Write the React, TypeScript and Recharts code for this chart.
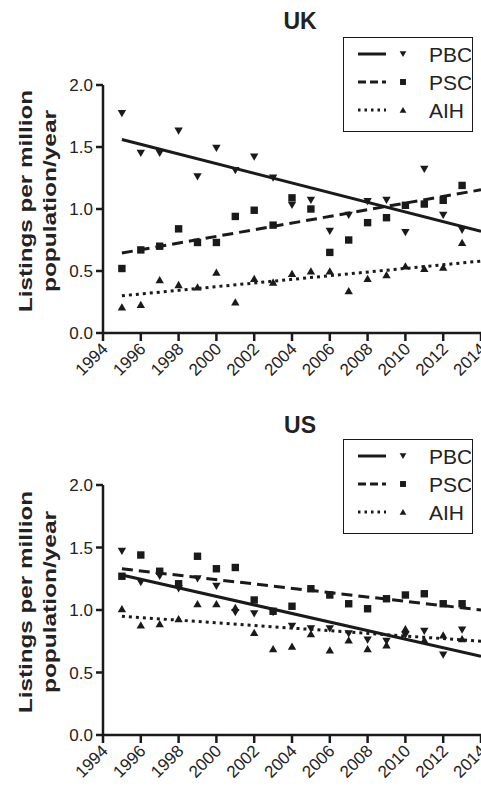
import React from "react";
import { ComposedChart, Scatter, XAxis, YAxis, Legend } from "recharts";

const years = [1995, 1996, 1997, 1998, 1999, 2000, 2001, 2002, 2003, 2004, 2005, 2006, 2007, 2008, 2009, 2010, 2011, 2012, 2013];
const xTicks = [1994, 1996, 1998, 2000, 2002, 2004, 2006, 2008, 2010, 2012, 2014];
const yTicks = [0, 0.5, 1, 1.5, 2];
const fitYears = [1995, 2014];

const ukPBC = [1.77, 1.45, 1.45, 1.63, 1.26, 1.49, 1.31, 1.42, 1.25, 1.03, 1.07, 0.82, 0.95, 1.06, 1.07, 0.81, 1.32, 0.95, 0.83];
const ukPSC = [0.52, 0.67, 0.7, 0.84, 0.73, 0.73, 0.94, 0.99, 0.87, 1.09, 1.0, 0.65, 0.75, 0.89, 0.93, 1.03, 1.04, 1.07, 1.19];
const ukAIH = [0.21, 0.23, 0.43, 0.39, 0.37, 0.49, 0.25, 0.44, 0.41, 0.48, 0.5, 0.5, 0.34, 0.44, 0.47, 0.54, 0.52, 0.53, 0.73];
const ukFitPBC = [1.56, 0.82];
const ukFitPSC = [0.645, 1.155];
const ukFitAIH = [0.3, 0.58];

const usPBC = [1.47, 1.22, 1.27, 1.17, 1.25, 1.19, 0.98, 0.97, 0.98, 0.87, 0.85, 0.85, 0.81, 0.76, 0.75, 0.8, 0.83, 0.64, 0.84];
const usPSC = [1.27, 1.44, 1.31, 1.21, 1.43, 1.33, 1.34, 1.08, 0.99, 1.03, 1.17, 1.12, 1.05, 1.01, 1.09, 1.12, 1.13, 1.05, 1.05];
const usAIH = [1.01, 0.88, 0.89, 0.93, 1.05, 1.05, 1.02, 0.82, 0.69, 0.71, 0.81, 0.68, 0.76, 0.69, 0.72, 0.85, 0.76, 0.8, 0.77];
const usFitPBC = [1.28, 0.63];
const usFitPSC = [1.33, 1.0];
const usFitAIH = [0.95, 0.75];

const seriesNames = ["PBC", "PSC", "AIH"];

const INK = "#1a1a1a";
const FONT = "'Liberation Sans', Arial, sans-serif";

const toPts = (vals: number[]) => years.map((x, i) => ({ x, y: vals[i] }));
const toFit = (vals: number[]) => fitYears.map((x, i) => ({ x, y: vals[i] }));

const DownTri = (p: any) => {
  const { cx, cy } = p;
  if (cx == null || cy == null) return <g />;
  return <polygon points={`${cx - 4.2},${cy - 3.5} ${cx + 4.2},${cy - 3.5} ${cx},${cy + 3.8}`} fill={INK} />;
};
const UpTri = (p: any) => {
  const { cx, cy } = p;
  if (cx == null || cy == null) return <g />;
  return <polygon points={`${cx - 4.2},${cy + 3.5} ${cx + 4.2},${cy + 3.5} ${cx},${cy - 3.8}`} fill={INK} />;
};
const Sq = (p: any) => {
  const { cx, cy } = p;
  if (cx == null || cy == null) return <g />;
  return <rect x={cx - 3.7} y={cy - 3.7} width={7.4} height={7.4} fill={INK} />;
};
const Nothing = () => <g />;

const dashes = ["", "11 6", "3 4"];
const shapes = [DownTri, Sq, UpTri];

const XTick = (props: any) => {
  const { x, y, payload } = props;
  const ax = x + 6;
  const ay = y + 7;
  return (
    <text
      x={ax}
      y={ay}
      transform={`rotate(-45 ${ax} ${ay})`}
      textAnchor="end"
      fontSize={17}
      fontFamily={FONT}
      fill="#222"
    >
      {payload.value}
    </text>
  );
};

const YLabel = (props: any) => {
  const vb = props.viewBox || {};
  const cy = vb.y + vb.height / 2 - 8;
  return (
    <g fontFamily={FONT} fontWeight="bold" fontSize={19} fill="#222">
      <text
        x={25}
        y={cy}
        transform={`rotate(-90 25 ${cy})`}
        textAnchor="middle"
        dominantBaseline="central"
        textLength={222}
        lengthAdjust="spacingAndGlyphs"
      >
        Listings per million
      </text>
      <text
        x={49}
        y={cy}
        transform={`rotate(-90 49 ${cy})`}
        textAnchor="middle"
        dominantBaseline="central"
        textLength={182}
        lengthAdjust="spacingAndGlyphs"
      >
        population/year
      </text>
    </g>
  );
};

const LegendBox = () => (
  <div
    style={{
      border: `1.5px solid ${INK}`,
      width: 130,
      height: 95,
      boxSizing: "border-box",
      background: "#fff",
      paddingTop: 2,
    }}
  >
    {seriesNames.map((name, i) => {
      const Shape = shapes[i];
      return (
        <svg key={name} width={127} height={28} style={{ display: "block" }}>
          <line x1={14} x2={42} y1={14} y2={14} stroke={INK} strokeWidth={3} strokeDasharray={i === 0 ? undefined : i === 1 ? "8 4" : "2.5 4"} />
          <g transform="translate(59 14) scale(0.8) translate(-59 -14)">
            <Shape cx={59} cy={14} />
          </g>
          <text x={85} y={14} dominantBaseline="central" fontSize={21} fontFamily={FONT} fill="#222">
            {name}
          </text>
        </svg>
      );
    })}
  </div>
);

type PanelProps = {
  title: string;
  height: number;
  top: number;
  bottom: number;
  titleY: number;
  legendTop: number;
  pbc: number[];
  psc: number[];
  aih: number[];
  fits: number[][];
};

const Panel = ({ title, height, top, bottom, titleY, legendTop, pbc, psc, aih, fits }: PanelProps) => {
  const data = [pbc, psc, aih];
  return (
    <div style={{ position: "relative", width: 481, height }}>
      <div
        style={{
          position: "absolute",
          left: 250,
          width: 100,
          top: titleY - 13,
          textAlign: "center",
          fontFamily: FONT,
          fontWeight: "bold",
          fontSize: 23,
          lineHeight: "26px",
          color: "#222",
        }}
      >
        {title}
      </div>
      <ComposedChart width={481} height={height} margin={{ top, right: 0, bottom, left: 0 }}>
        <XAxis
          type="number"
          dataKey="x"
          domain={[1994, 2014]}
          ticks={xTicks}
          interval={0}
          allowDataOverflow
          height={50}
          tick={<XTick />}
          tickSize={8}
          tickMargin={2}
          axisLine={{ stroke: INK, strokeWidth: 2.5 }}
          tickLine={{ stroke: INK, strokeWidth: 2.5 }}
        />
        <YAxis
          type="number"
          dataKey="y"
          domain={[0, 2]}
          ticks={yTicks}
          interval={0}
          width={103}
          tickSize={7}
          tickMargin={3}
          tickFormatter={(v: number) => v.toFixed(1)}
          tick={{ fontSize: 17, fontFamily: FONT, fill: "#222" }}
          axisLine={{ stroke: INK, strokeWidth: 2.5 }}
          tickLine={{ stroke: INK, strokeWidth: 2.5 }}
          label={{ content: <YLabel /> }}
        />
        {seriesNames.map((name, i) => (
          <Scatter
            key={`fit-${name}`}
            name={`${name} fit`}
            data={toFit(fits[i])}
            shape={<Nothing />}
            line={{ stroke: INK, strokeWidth: 3, strokeDasharray: dashes[i] || undefined }}
            isAnimationActive={false}
            legendType="none"
          />
        ))}
        {seriesNames.map((name, i) => {
          const Shape = shapes[i];
          return (
            <Scatter
              key={name}
              name={name}
              data={toPts(data[i])}
              shape={<Shape />}
              isAnimationActive={false}
            />
          );
        })}
        <Legend
          layout="vertical"
          align="center"
          verticalAlign="middle"
          content={<LegendBox />}
          wrapperStyle={{ top: legendTop, left: 343, width: 130, height: 95 }}
        />
      </ComposedChart>
    </div>
  );
}

export default function App() {
  return (
    <div style={{ position: "absolute", left: 0, top: 0, width: 481, height: 787, background: "#fff" }}>
      <Panel
        title="UK"
        height={393}
        top={85}
        bottom={10}
        titleY={21}
        legendTop={37}
        pbc={ukPBC}
        psc={ukPSC}
        aih={ukAIH}
        fits={[ukFitPBC, ukFitPSC, ukFitAIH]}
      />
      <Panel
        title="US"
        height={394}
        top={92}
        bottom={2}
        titleY={32}
        legendTop={46}
        pbc={usPBC}
        psc={usPSC}
        aih={usAIH}
        fits={[usFitPBC, usFitPSC, usFitAIH]}
      />
    </div>
  );
}
